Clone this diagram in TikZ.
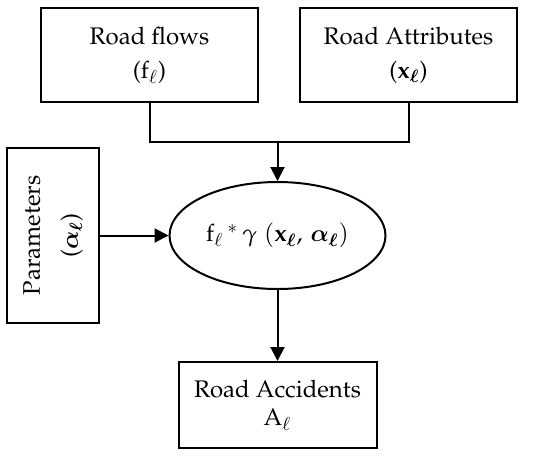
\documentclass[tikz,border=0pt]{standalone}
\usepackage[T1]{fontenc}
\usepackage{amsmath,bm}
\usepackage{mathpazo}
\usepackage{tikz}
\usetikzlibrary{arrows.meta, positioning, calc, shapes.geometric}

\tikzset{
    blockbox/.style={draw, line width=1pt, align=center, inner sep=0pt},
    flowline/.style={line width=1pt},
    flowarrow/.style={line width=1pt, -{Triangle[length=7pt,width=7pt]}}
}

\begin{document}
\begin{tikzpicture}[x=0.5pt, y=-0.5pt, font=\fontsize{12}{15}\selectfont]
    \useasboundingbox (0,0) rectangle (550,456);

    % inputs
    \node[blockbox, minimum width=108.5pt, minimum height=47pt] (flows) at (149.5,55)
        {Road flows\\[2pt] ($\mathrm{f}_{\ell}$)};
    \node[blockbox, minimum width=108.5pt, minimum height=47pt] (attrib) at (408.5,55)
        {Road Attributes\\[2pt] ($\mathbf{x}_{\bm{\ell}}$)};
    \node[blockbox, rotate=90, minimum width=87.5pt, minimum height=46pt] (params) at (53,235.5)
        {Parameters\\[4pt] ($\bm{\alpha}_{\bm{\ell}}$)};

    % model
    \node[draw, ellipse, line width=1pt, minimum width=108pt, minimum height=53.5pt, inner sep=0pt] (model) at (277.5,235.5)
        {$\mathrm{f}_{\ell}\,{}^{*}\,\gamma\;(\mathbf{x}_{\bm{\ell}},\,\bm{\alpha}_{\bm{\ell}})$};

    % output
    \node[blockbox, minimum width=99pt, minimum height=43pt] (accid) at (277.5,405)
        {Road Accidents\\[-1pt] $\mathrm{A}_{\ell}$};

    \coordinate (join) at (277.5,142);
    \draw[flowline] (flows.south) |- (join) -| (attrib.south);
    \draw[flowarrow] (join) -- (model.north);
    \draw[flowarrow] (params.south) -- (model.west);
    \draw[flowarrow] (model.south) -- (accid.north);
\end{tikzpicture}
\end{document}
